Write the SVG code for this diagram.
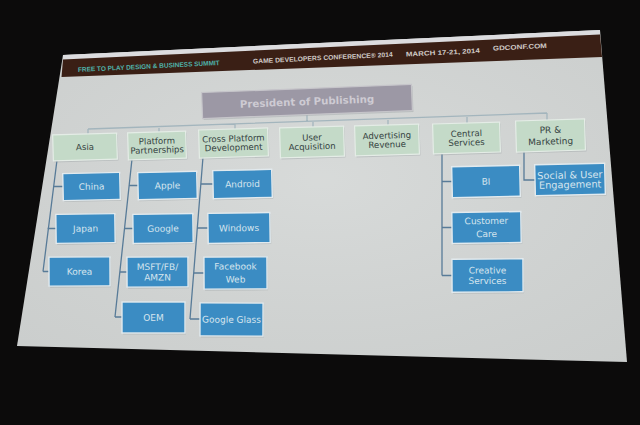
<svg xmlns="http://www.w3.org/2000/svg" width="640" height="425" viewBox="0 0 640 425">
<defs>
<style>
.g rect.b{fill:#c4dac8;stroke:#e4ece6;stroke-width:1.2}
.bl rect.b{fill:#3b8cc3;stroke:#e2eaee;stroke-width:1.4}
rect.sh{fill:#9ea4a6;opacity:0.45}
.g text{font-family:"DejaVu Sans",Verdana,sans-serif;font-size:8.6px;fill:#34423f;text-anchor:middle}
.bl text{font-family:"DejaVu Sans",Verdana,sans-serif;font-size:9px;fill:#d6e5ee;text-anchor:middle}
.hd{font-family:"Liberation Sans",Arial,sans-serif;font-weight:bold;font-size:6.6px;fill:#cfc9c5}
.lk{fill:none;stroke:#587b98;stroke-width:1.3}
.top{fill:none;stroke:#a3b5bd;stroke-width:1.3}
</style>
<radialGradient id="lit" cx="0.5" cy="0.45" r="0.75">
<stop offset="0" stop-color="#ffffff" stop-opacity="0.06"/>
<stop offset="1" stop-color="#000000" stop-opacity="0.05"/>
</radialGradient>
</defs>
<rect width="640" height="425" fill="#0c0b0b"/>
<!-- screen -->
<polygon points="63,55 600,30 627,362 17,346" fill="#d5d8d7"/>
<polygon points="63,55 600,30 627,362 17,346" fill="url(#lit)"/>
<polygon points="63,55 600,30 600,34.5 63,59.5" fill="#dcdcdf"/>
<polygon points="63,59.5 600,34.5 602,57 61.5,77" fill="#3a1f15"/>
<text class="hd" x="78" y="72" style="fill:#4fb1a9" textLength="142" lengthAdjust="spacingAndGlyphs" transform="rotate(-2.8 78 72)">FREE TO PLAY DESIGN &amp; BUSINESS SUMMIT</text>
<text class="hd" x="253" y="63.5" textLength="140" lengthAdjust="spacingAndGlyphs" transform="rotate(-2.8 253 63.5)">GAME DEVELOPERS CONFERENCE® 2014</text>
<text class="hd" x="406" y="56.5" textLength="74" lengthAdjust="spacingAndGlyphs" transform="rotate(-2.8 406 56.5)">MARCH 17-21, 2014</text>
<text class="hd" x="493" y="50.5" textLength="54" lengthAdjust="spacingAndGlyphs" transform="rotate(-2.8 493 50.5)">GDCONF.COM</text>

<!-- connectors -->
<g id="connectors">
<path class="top" d="M307,114.5 V121.4 M88,129 L547,113 M88,129 V134 M159,126.5 V132 M235,123.9 V129 M313,121.2 V127 M388,118.5 V125 M467,115.8 V123 M547,113 V120"/>
<path class="lk" d="M57,160 L43,271.5 M53,186.5 H63 M47.5,228.5 H56 M43,271.5 H49"/>
<path class="lk" d="M132,159 L115,317 M129,185.5 H138 M124.5,228.5 H133 M120,272 H127 M115,317 H122"/>
<path class="lk" d="M203,157 L190,319 M201,184 H213 M197.5,228 H208 M194,273 H204 M190,319 H200"/>
<path class="lk" d="M442,153 V275.5 M442,181.5 H452 M442,227.5 H452 M442,275.5 H452"/>
<path class="lk" d="M524,151 V180 H535"/>
</g>

<!-- president -->
<g id="president" transform="translate(307,101.5) rotate(-2.2)">
<rect class="sh" x="-104" y="-11.5" width="210" height="26"/>
<rect x="-105" y="-13" width="210" height="26" fill="#9c98a5" stroke="#c6c5ca" stroke-width="1.2"/>
<text x="0" y="3.6" font-family="DejaVu Sans,Verdana,sans-serif" font-weight="bold" font-size="10.2" fill="#cecbd3" text-anchor="middle">President of Publishing</text>
</g>

<!-- level 2 -->
<g id="asia" class="g" transform="translate(85,147) rotate(-1.7)">
<rect class="sh" x="-31" y="-11.5" width="64" height="26"/><rect class="b" x="-32" y="-13" width="64" height="26"/>
<text y="3">Asia</text></g>
<g id="platform" class="g" transform="translate(157,145.5) rotate(-1.7)">
<rect class="sh" x="-28" y="-12" width="58" height="27"/><rect class="b" x="-29" y="-13.5" width="58" height="27"/>
<text y="-1.5">Platform</text><text y="7.5">Partnerships</text></g>
<g id="cross" class="g" transform="translate(233.5,143) rotate(-1.7)">
<rect class="sh" x="-33.5" y="-12.5" width="69" height="28"/><rect class="b" x="-34.5" y="-14" width="69" height="28"/>
<text y="-1.5">Cross Platform</text><text y="7.5">Development</text></g>
<g id="user" class="g" transform="translate(312,142) rotate(-1.7)">
<rect class="sh" x="-31" y="-13.5" width="64" height="30"/><rect class="b" x="-32" y="-15" width="64" height="30"/>
<text y="-1.5">User</text><text y="7.5">Acquisition</text></g>
<g id="advertising" class="g" transform="translate(387,140) rotate(-1.7)">
<rect class="sh" x="-31" y="-13.5" width="64" height="30"/><rect class="b" x="-32" y="-15" width="64" height="30"/>
<text y="-1.5">Advertising</text><text y="7.5">Revenue</text></g>
<g id="central" class="g" transform="translate(466.5,138) rotate(-1.7)">
<rect class="sh" x="-32.5" y="-13.5" width="67" height="30"/><rect class="b" x="-33.5" y="-15" width="67" height="30"/>
<text y="-1.5">Central</text><text y="7.5">Services</text></g>
<g id="pr" class="g" transform="translate(550.5,135.5) rotate(-1.7)">
<rect class="sh" x="-33.5" y="-14" width="69" height="31"/><rect class="b" x="-34.5" y="-15.5" width="69" height="31"/>
<text y="-2.5" style="font-size:9px">PR &amp;</text><text y="9" style="font-size:9px">Marketing</text></g>

<!-- level 3 -->
<g id="china" class="bl" transform="translate(91.5,186.5) rotate(-1.3)">
<rect class="sh" x="-27.5" y="-12" width="57" height="27"/><rect class="b" x="-28.5" y="-13.5" width="57" height="27"/>
<text y="3.2">China</text></g>
<g id="apple" class="bl" transform="translate(167.5,185.5) rotate(-1.3)">
<rect class="sh" x="-28.5" y="-12" width="59" height="27"/><rect class="b" x="-29.5" y="-13.5" width="59" height="27"/>
<text y="3.2">Apple</text></g>
<g id="android" class="bl" transform="translate(242.5,184) rotate(-1.3)">
<rect class="sh" x="-28.5" y="-12.5" width="59" height="28"/><rect class="b" x="-29.5" y="-14" width="59" height="28"/>
<text y="3.2">Android</text></g>
<g id="bi" class="bl" transform="translate(486,181.5) rotate(-1.3)">
<rect class="sh" x="-33" y="-14" width="68" height="31"/><rect class="b" x="-34" y="-15.5" width="68" height="31"/>
<text y="3.2">BI</text></g>
<g id="social" class="bl" transform="translate(570,179.5) rotate(-1.3)">
<rect class="sh" x="-34" y="-14" width="70" height="31"/><rect class="b" x="-35" y="-15.5" width="70" height="31"/>
<text y="-1" style="font-size:9.8px">Social &amp; User</text><text y="8.5" style="font-size:9.8px">Engagement</text></g>
<g id="japan" class="bl" transform="translate(85.5,228.5) rotate(-0.8)">
<rect class="sh" x="-28.5" y="-13" width="59" height="29"/><rect class="b" x="-29.5" y="-14.5" width="59" height="29"/>
<text y="3.2">Japan</text></g>
<g id="google" class="bl" transform="translate(163,228.5) rotate(-0.8)">
<rect class="sh" x="-29" y="-13" width="60" height="29"/><rect class="b" x="-30" y="-14.5" width="60" height="29"/>
<text y="3.2">Google</text></g>
<g id="windows" class="bl" transform="translate(239,228) rotate(-0.8)">
<rect class="sh" x="-30" y="-13.5" width="62" height="30"/><rect class="b" x="-31" y="-15" width="62" height="30"/>
<text y="3.2">Windows</text></g>
<g id="customer" class="bl" transform="translate(486.5,227.5) rotate(-0.8)">
<rect class="sh" x="-33.5" y="-14" width="69" height="31"/><rect class="b" x="-34.5" y="-15.5" width="69" height="31"/>
<text y="-3.5">Customer</text><text y="9.5">Care</text></g>
<g id="korea" class="bl" transform="translate(79.5,271.5) rotate(-0.3)">
<rect class="sh" x="-29.5" y="-13" width="61" height="29"/><rect class="b" x="-30.5" y="-14.5" width="61" height="29"/>
<text y="3.2">Korea</text></g>
<g id="msft" class="bl" transform="translate(157.5,272) rotate(-0.3)">
<rect class="sh" x="-29.5" y="-13.5" width="61" height="30"/><rect class="b" x="-30.5" y="-15" width="61" height="30"/>
<text y="-2">MSFT/FB/</text><text y="8.5">AMZN</text></g>
<g id="facebook" class="bl" transform="translate(235.5,273) rotate(-0.3)">
<rect class="sh" x="-30.5" y="-14.5" width="63" height="32"/><rect class="b" x="-31.5" y="-16" width="63" height="32"/>
<text y="-3.5">Facebook</text><text y="9.5">Web</text></g>
<g id="creative" class="bl" transform="translate(487.5,275.5) rotate(-0.3)">
<rect class="sh" x="-34.5" y="-15" width="71" height="33"/><rect class="b" x="-35.5" y="-16.5" width="71" height="33"/>
<text y="-2">Creative</text><text y="8.5">Services</text></g>
<g id="oem" class="bl" transform="translate(153.5,317.5)">
<rect class="sh" x="-30.5" y="-14" width="63" height="31"/><rect class="b" x="-31.5" y="-15.5" width="63" height="31"/>
<text y="3.2">OEM</text></g>
<g id="glass" class="bl" transform="translate(231.5,319.5) rotate(0.2)">
<rect class="sh" x="-30.5" y="-15" width="63" height="33"/><rect class="b" x="-31.5" y="-16.5" width="63" height="33"/>
<text y="3.2">Google Glass</text></g>
</svg>
